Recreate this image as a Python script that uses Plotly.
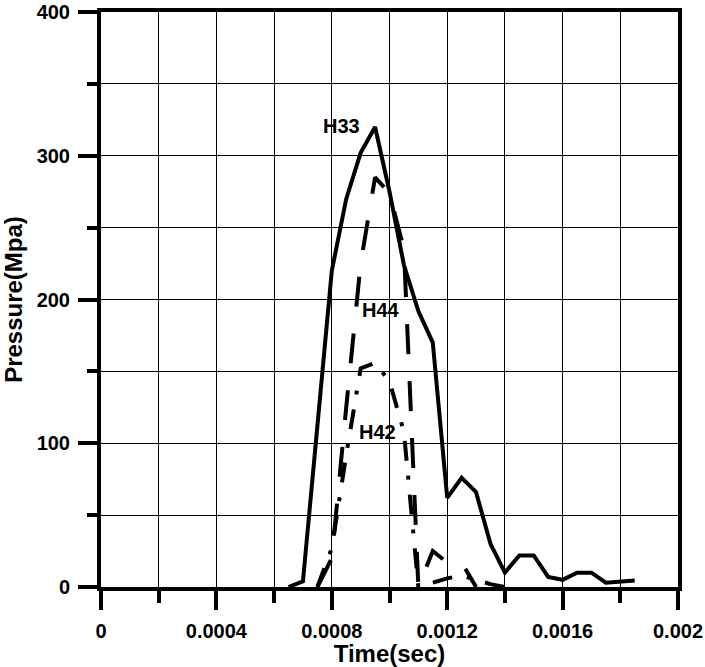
import plotly.graph_objects as go

# ---- data ----
t_h33 = [0.00065, 0.0007, 0.00075, 0.0008, 0.00085, 0.0009, 0.00095, 0.001, 0.00105,
         0.0011, 0.00115, 0.0012, 0.00125, 0.0013, 0.00135, 0.0014, 0.00145, 0.0015,
         0.00155, 0.0016, 0.00165, 0.0017, 0.00175, 0.0018, 0.00185]
p_h33 = [0, 4, 112, 220, 270, 302, 320, 275, 224,
         192, 170, 62, 76, 66, 30, 10, 22, 22,
         7, 5, 10, 10, 3, 3.5, 4.5]

t_h44 = [0.00075, 0.0008, 0.00085, 0.0009, 0.00095, 0.001, 0.00105, 0.0011,
         0.00115, 0.0012, 0.00125, 0.0013]
p_h44 = [0, 20, 125, 225, 285, 274, 235, 0,
         25, 17, 17, 0]

t_h42 = [0.00075, 0.0008, 0.00085, 0.0009, 0.00095, 0.001, 0.00105, 0.0011,
         0.00115, 0.0012, 0.00125, 0.0013, 0.00135, 0.0014]
p_h42 = [0, 27, 92, 152, 156, 143, 108, 0,
         3, 6, 8, 5, 2, 0]

series_names = ["H33", "H44", "H42"]
label_pos = [(0.000832, 321), (0.00097, 193), (0.00096, 108)]

x_tickvals = [0, 0.0004, 0.0008, 0.0012, 0.0016, 0.002]
x_ticktext = ["0", "0.0004", "0.0008", "0.0012", "0.0016", "0.002"]
y_tickvals = [0, 100, 200, 300, 400]
y_ticktext = ["0", "100", "200", "300", "400"]

FONT = "Liberation Sans, Arial, sans-serif"

fig = go.Figure()
fig.add_trace(go.Scatter(x=t_h33, y=p_h33, mode="lines", name=series_names[0],
                         line=dict(color="black", width=4, dash="solid")))
fig.add_trace(go.Scatter(x=t_h44, y=p_h44, mode="lines", name=series_names[1],
                         line=dict(color="black", width=4, dash="30px,27px")))
fig.add_trace(go.Scatter(x=t_h42, y=p_h42, mode="lines", name=series_names[2],
                         line=dict(color="black", width=4, dash="20px,15px,4px,15px")))

for name, (lx, ly) in zip(series_names, label_pos):
    fig.add_annotation(x=lx, y=ly, text=name, showarrow=False,
                       font=dict(family=FONT, size=20, color="black", weight="bold"))

axis_common = dict(
    showline=True, linecolor="black", linewidth=4, mirror=True,
    ticks="outside", tickcolor="black", tickwidth=4, ticklen=19,
    showgrid=True, gridcolor="black", gridwidth=1, zeroline=False,
    tickfont=dict(family=FONT, size=20, color="black", weight="bold"),
)

fig.update_xaxes(
    range=[0, 0.002], tickmode="array", tickvals=x_tickvals, ticktext=x_ticktext,
    minor=dict(dtick=0.0002, tick0=0, ticks="outside", ticklen=12, tickwidth=4,
               tickcolor="black", showgrid=True, gridcolor="black", gridwidth=1),
    title=dict(text="Time(sec)", font=dict(family=FONT, size=24, color="black", weight="bold"),
               standoff=0),
    ticklabelstandoff=4,
    **axis_common,
)
fig.update_yaxes(
    range=[0, 400], tickmode="array", tickvals=y_tickvals, ticktext=y_ticktext,
    minor=dict(dtick=50, tick0=0, ticks="outside", ticklen=10, tickwidth=4,
               tickcolor="black", showgrid=True, gridcolor="black", gridwidth=1),
    title=dict(text="Pressure(Mpa)", font=dict(family=FONT, size=24, color="black", weight="bold"),
               standoff=8),
    ticklabelstandoff=4,
    **axis_common,
)

fig.update_layout(
    width=705, height=667,
    margin=dict(l=101, r=27, t=12, b=80, autoexpand=False),
    plot_bgcolor="white", paper_bgcolor="white",
    showlegend=False,
)

fig.write_html("out.html")
